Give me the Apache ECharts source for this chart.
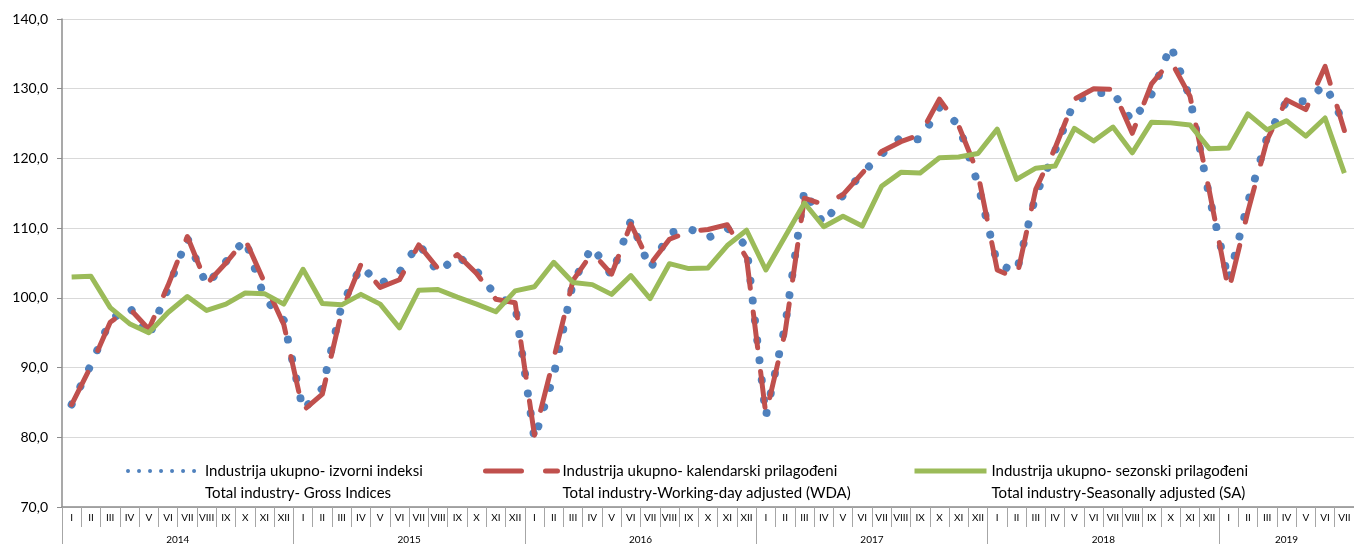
<!DOCTYPE html>
<html>
<head>
<meta charset="utf-8">
<script src="https://cdn.jsdelivr.net/npm/echarts@6/dist/echarts.min.js"></script>
<style>
html, body { margin: 0; padding: 0; background: #fff; }
#chart { width: 1354px; height: 545px; }
</style>
</head>
<body>
<div id="chart"></div>
<script>
// month / year labels
const monthNames = ['I','II','III','IV','V','VI','VII','VIII','IX','X','XI','XII'];
const years = ['2014','2015','2016','2017','2018','2019'];
const monthsInYear = [12, 12, 12, 12, 12, 7];

// Industrija ukupno - izvorni indeksi (gross)
const gross = [
  84.7, 90.4, 96.8, 98.7, 94.4, 101.3, 108.6, 101.8, 105.2, 108.4, 100.0, 96.8,
  83.9, 87.0, 98.9, 104.5, 102.0, 103.7, 107.8, 103.6, 106.0, 103.9, 100.3, 99.0,
  79.7, 88.9, 102.2, 107.4, 103.2, 111.1, 104.1, 109.3, 110.0, 108.6, 110.0, 107.4,
  83.0, 96.0, 115.5, 110.5, 114.7, 117.9, 120.6, 123.0, 122.7, 127.3, 124.8, 116.3,
  104.9, 103.7, 114.8, 121.1, 128.2, 129.3, 129.5, 125.3, 129.2, 136.2, 128.6, 114.5,
  102.5, 113.7, 123.1, 128.2, 128.2, 130.6, 124.9
];
// kalendarski prilagodjeni (WDA)
const wda = [
  84.7, 90.2, 96.5, 98.5, 95.5, 101.8, 108.8, 102.0, 105.0, 108.4, 102.2, 96.2,
  83.8, 86.2, 98.0, 104.8, 101.5, 102.6, 107.6, 104.2, 106.2, 103.5, 99.8, 99.3,
  80.3, 91.3, 102.5, 106.5, 103.4, 110.6, 104.8, 108.4, 109.5, 109.8, 110.5, 105.7,
  83.3, 95.1, 114.3, 113.4, 114.8, 117.9, 121.0, 122.4, 123.4, 128.5, 124.7, 117.8,
  104.0, 102.8, 115.6, 121.5, 128.5, 130.0, 129.9, 123.6, 130.7, 134.0, 128.9, 115.3,
  101.0, 112.4, 122.7, 128.4, 127.0, 133.2, 124.0
];
// sezonski prilagodjeni (SA)
const sa = [
  103.0, 103.1, 98.6, 96.3, 95.0, 97.9, 100.2, 98.2, 99.1, 100.7, 100.6, 99.1,
  104.1, 99.2, 99.0, 100.5, 99.1, 95.7, 101.1, 101.2, 100.1, 99.1, 98.0, 101.0,
  101.6, 105.1, 102.2, 101.9, 100.5, 103.2, 99.9, 104.9, 104.2, 104.3, 107.5, 109.7,
  104.0, 108.8, 113.6, 110.2, 111.7, 110.3, 116.0, 118.0, 117.9, 120.1, 120.2, 120.7,
  124.2, 117.0, 118.6, 118.9, 124.3, 122.5, 124.5, 120.8, 125.2, 125.1, 124.8, 121.4,
  121.5, 126.4, 124.1, 125.4, 123.2, 125.8, 117.9
];

const names = [
  'Industrija ukupno- izvorni indeksi',
  'Industrija ukupno- kalendarski prilagođeni',
  'Industrija ukupno- sezonski prilagođeni'
];
const subNames = [
  'Total industry- Gross Indices',
  'Total industry-Working-day adjusted (WDA)',
  'Total industry-Seasonally adjusted (SA)'
];

// build category lists
let monthCats = [];
let yearCats = [];
let yearLabelIdx = {};
let start = 0;
years.forEach(function (y, k) {
  const n = monthsInYear[k];
  for (let m = 0; m < n; m++) {
    monthCats.push(monthNames[m]);
    yearCats.push(y + '|' + m);
  }
  // label sits in the middle of the year's months
  yearLabelIdx[start + Math.floor((n - 1) / 2)] = (n % 2 === 0) ? 'f' : 'p';
  start += n;
});

const font = 'Lato';
const axisGray = '#8c8c8c';

let chart = echarts.init(document.getElementById('chart'));

function legendFor(i, left, lineStyle) {
  return {
    show: true,
    data: [names[i]],
    left: left,
    top: 438,
    padding: 0,
    itemWidth: 72,
    itemHeight: 12,
    selectedMode: false,
    lineStyle: lineStyle,
    itemStyle: { opacity: 0 },
    // empty first line keeps the icon level with the first text line
    formatter: function (name) {
      return '\u00a0\n' + name + '\n' + subNames[names.indexOf(name)];
    },
    textStyle: {
      fontFamily: font,
      fontSize: 15,
      color: '#000',
      lineHeight: 22
    }
  };
}

chart.setOption({
  animation: false,
  backgroundColor: '#fff',
  grid: {
    left: 62,
    top: 19,
    width: 1296.5,
    height: 489
  },
  legend: [
    legendFor(0, 126, { width: 4, type: [0.01, 11], cap: 'round', color: '#4f81bd' }),
    legendFor(1, 483, { width: 5, type: [36, 24], cap: 'round', color: '#c0504d' }),
    legendFor(2, 912, { width: 5, type: 'solid', color: '#9bbb59' })
  ],
  xAxis: [
    {
      type: 'category',
      data: monthCats,
      position: 'bottom',
      boundaryGap: true,
      axisLine: { show: true, lineStyle: { color: axisGray, width: 1.5 } },
      axisTick: { show: true, interval: 0, length: 20, lineStyle: { color: '#a6a6a6' } },
      axisLabel: {
        interval: 0,
        margin: 6,
        fontFamily: font,
        fontSize: 10,
        color: '#000'
      },
      splitLine: { show: false }
    },
    {
      type: 'category',
      data: yearCats,
      position: 'bottom',
      boundaryGap: true,
      axisLine: { show: false },
      axisTick: {
        show: true,
        interval: function (idx) { return idx % 12 === 0; },
        length: 37,
        lineStyle: { color: '#a6a6a6' }
      },
      axisLabel: {
        interval: function (idx) { return yearLabelIdx[idx] !== undefined; },
        margin: 28,
        fontFamily: font,
        fontSize: 10,
        color: '#000',
        formatter: function (value, idx) {
          const y = value.split('|')[0];
          return '{' + (yearLabelIdx[idx] || 'p') + '|' + y + '}';
        },
        rich: {
          f: { padding: [0, 0, 0, 19.35], fontFamily: font, fontSize: 10, color: '#000' },
          p: { fontFamily: font, fontSize: 10, color: '#000' }
        }
      },
      splitLine: { show: false }
    }
  ],
  yAxis: {
    type: 'value',
    min: 70,
    max: 140,
    interval: 10,
    axisLine: { show: true, lineStyle: { color: axisGray, width: 1.5 } },
    axisTick: { show: true, length: 5, lineStyle: { color: axisGray } },
    axisLabel: {
      margin: 14,
      fontFamily: font,
      fontSize: 14,
      color: '#000',
      formatter: function (v) { return v.toFixed(1).replace('.', ','); }
    },
    splitLine: { show: true, lineStyle: { color: '#d9d9d9', width: 1 } }
  },
  series: [
    {
      name: names[0],
      type: 'line',
      data: gross,
      symbol: 'none',
      z: 2,
      lineStyle: { color: '#4f81bd', width: 8, type: [0.01, 20], cap: 'round', join: 'round' },
      itemStyle: { color: '#4f81bd' }
    },
    {
      name: names[1],
      type: 'line',
      data: wda,
      symbol: 'none',
      z: 3,
      lineStyle: { color: '#c0504d', width: 5, type: [36, 24], cap: 'round', join: 'round' },
      itemStyle: { color: '#c0504d' }
    },
    {
      name: names[2],
      type: 'line',
      data: sa,
      symbol: 'none',
      z: 4,
      lineStyle: { color: '#9bbb59', width: 5, join: 'round' },
      itemStyle: { color: '#9bbb59' }
    }
  ]
});
</script>
</body>
</html>
